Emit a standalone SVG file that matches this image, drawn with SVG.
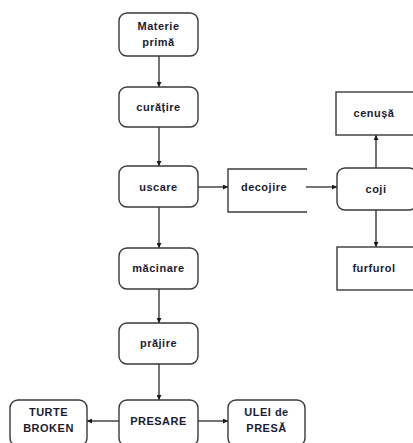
<svg xmlns="http://www.w3.org/2000/svg" width="413" height="443" viewBox="0 0 413 443">
<style>
.b{fill:#fff;stroke:#3a3a3a;stroke-width:1.4}
.t{font-family:"Liberation Sans",Arial,sans-serif;font-weight:bold;font-size:11px;letter-spacing:0.5px;fill:#1c1c30;text-anchor:middle;dominant-baseline:central}
.c{fill:none;stroke:#3a3a3a;stroke-width:1.4}
</style>
<defs>
<marker id="a" viewBox="0 0 10 10" refX="10" refY="5" markerWidth="5" markerHeight="5" orient="auto" markerUnits="userSpaceOnUse">
<path d="M0,0L10,5L0,10z" fill="#1a1a1a"/>
</marker>
</defs>
<g id="connectors">
<line class="c" x1="159" y1="56" x2="159" y2="87" marker-end="url(#a)"/>
<line class="c" x1="159" y1="127" x2="159" y2="166" marker-end="url(#a)"/>
<line class="c" x1="159" y1="207" x2="159" y2="248" marker-end="url(#a)"/>
<line class="c" x1="159" y1="289" x2="159" y2="323" marker-end="url(#a)"/>
<line class="c" x1="159" y1="364" x2="159" y2="400" marker-end="url(#a)"/>
<line class="c" x1="198" y1="187" x2="228" y2="187" marker-end="url(#a)"/>
<line class="c" x1="306" y1="187" x2="337" y2="187" marker-end="url(#a)"/>
<line class="c" x1="376" y1="168" x2="376" y2="135" marker-end="url(#a)"/>
<line class="c" x1="376" y1="210" x2="376" y2="247" marker-end="url(#a)"/>
<line class="c" x1="119" y1="421" x2="87" y2="421" marker-end="url(#a)"/>
<line class="c" x1="198" y1="421" x2="228" y2="421" marker-end="url(#a)"/>
</g>
<g id="materie"><rect class="b" x="119" y="13" width="79" height="43" rx="8"/><text class="t" x="158.5" y="26">Materie</text><text class="t" x="158.5" y="42">primă</text></g>
<g id="curatire"><rect class="b" x="119" y="87" width="79" height="40" rx="8"/><text class="t" x="158.5" y="107">curățire</text></g>
<g id="uscare"><rect class="b" x="119" y="166" width="79" height="41" rx="8"/><text class="t" x="158.5" y="187">uscare</text></g>
<g id="macinare"><rect class="b" x="119" y="248" width="79" height="41" rx="8"/><text class="t" x="158.5" y="268">măcinare</text></g>
<g id="prajire"><rect class="b" x="119" y="323" width="79" height="41" rx="8"/><text class="t" x="158.5" y="343">prăjire</text></g>
<g id="presare"><rect class="b" x="119" y="400" width="79" height="46" rx="8"/><text class="t" x="158.5" y="421">PRESARE</text></g>
<g id="turte"><rect class="b" x="10" y="400" width="77" height="46" rx="8"/><text class="t" x="48.5" y="412">TURTE</text><text class="t" x="48.5" y="428">BROKEN</text></g>
<g id="ulei"><rect class="b" x="228" y="400" width="77" height="46" rx="8"/><text class="t" x="266.5" y="412">ULEI de</text><text class="t" x="266.5" y="428">PRESĂ</text></g>
<g id="decojire"><path class="c" d="M307,169H228V212H307"/><text class="t" x="264" y="187">decojire</text></g>
<g id="coji"><rect class="b" x="337" y="168" width="80" height="42" rx="8"/><text class="t" x="376" y="189">coji</text></g>
<g id="cenusa"><rect class="b" x="336" y="92" width="80" height="43" /><text class="t" x="374" y="113">cenușă</text></g>
<g id="furfurol"><rect class="b" x="337" y="247" width="80" height="43"/><text class="t" x="374" y="268">furfurol</text></g>
</svg>
